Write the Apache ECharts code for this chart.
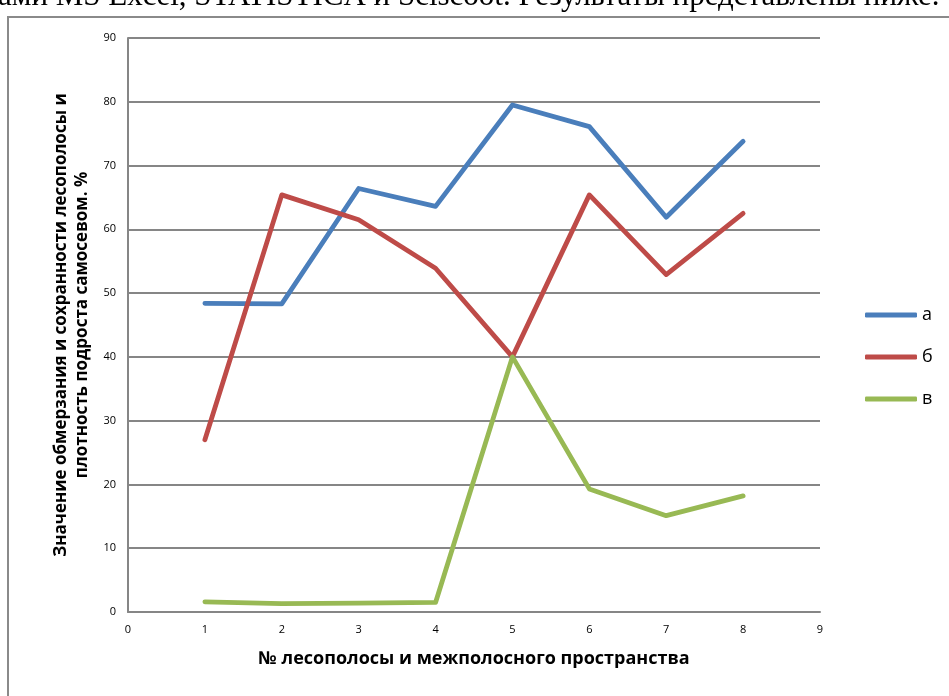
<!DOCTYPE html>
<html>
<head>
<meta charset="utf-8">
<script src="https://cdn.jsdelivr.net/npm/echarts@6/dist/echarts.min.js"></script>
<style>
  html, body { margin: 0; padding: 0; background: #fff; }
  #chart { width: 949px; height: 696px; }
</style>
</head>
<body>
<div id="chart"></div>
<script>
// Номера лесополос / межполосных пространств
const positions = [1, 2, 3, 4, 5, 6, 7, 8];
// Значения по вариантам а, б, в (%)
const seriesA = [48.4, 48.3, 66.4, 63.6, 79.5, 76.1, 61.9, 73.8];
const seriesB = [27.0, 65.4, 61.5, 53.9, 40.0, 65.4, 52.9, 62.5];
const seriesC = [1.6, 1.3, 1.4, 1.5, 40.0, 19.3, 15.1, 18.2];
const seriesNames = ['а', 'б', 'в'];
const colors = ['#4A7EBB', '#BE4B48', '#98B954'];

const pairs = (ys) => positions.map((x, i) => [x, ys[i]]);

const chart = echarts.init(document.getElementById('chart'), null, { renderer: 'canvas' });

const labelFont = '"Open Sans", "Noto Sans", sans-serif';

chart.setOption({
  animation: false,
  backgroundColor: '#fff',
  color: colors,
  grid: { left: 128, right: 129, top: 38, bottom: 84, containLabel: false },
  xAxis: {
    type: 'value', min: 0, max: 9, interval: 1,
    name: '№ лесополосы и межполосного пространства',
    nameLocation: 'middle', nameGap: 38,
    nameTextStyle: { fontFamily: labelFont, fontWeight: 'bold', fontSize: 18, color: '#000' },
    axisLine: { show: true, lineStyle: { color: '#868686', width: 2 } },
    axisTick: { show: false },
    axisLabel: { fontFamily: labelFont, fontSize: 11, color: '#000', margin: 12 },
    splitLine: { show: false }
  },
  yAxis: {
    type: 'value', min: 0, max: 90, interval: 10,
    name: 'Значение обмерзания и сохранности лесополосы и\nплотность подроста самосевом. %',
    nameLocation: 'middle', nameGap: 35,
    nameTextStyle: { fontFamily: labelFont, fontWeight: 'bold', fontSize: 17, lineHeight: 21, color: '#000' },
    axisLine: { show: true, lineStyle: { color: '#868686', width: 2 } },
    axisTick: { show: false },
    axisLabel: { fontFamily: labelFont, fontSize: 11, color: '#000', margin: 12 },
    splitLine: { show: true, lineStyle: { color: '#868686', width: 2 } }
  },
  legend: {
    orient: 'vertical', left: 860, top: 300,
    itemWidth: 52, itemHeight: 5, itemGap: 22,
    icon: 'roundRect',
    textStyle: { fontFamily: labelFont, fontSize: 18, lineHeight: 20, color: '#000' },
    data: seriesNames
  },
  series: seriesNames.map((name, k) => ({
    name,
    type: 'line',
    data: pairs([seriesA, seriesB, seriesC][k]),
    showSymbol: false,
    symbol: 'none',
    lineStyle: { width: 4.8, color: colors[k], cap: 'round', join: 'round' },
    itemStyle: { color: colors[k] },
    z: 2 + k
  })),
  graphic: [
    {
      type: 'rect', z: -1, silent: true,
      shape: { x: 8, y: 17, width: 1000, height: 760 },
      style: { fill: null, stroke: '#8a8a8a', lineWidth: 2 }
    },
    {
      type: 'text', x: -2, y: 12, silent: true,
      style: {
        text: 'ами MS Excel, STATISTICA и Sciscoot. Результаты представлены ниже.',
        font: '31px "Liberation Serif", "DejaVu Serif", serif',
        fill: '#000',
        verticalAlign: 'bottom',
        textBaseline: 'alphabetic'
      }
    }
  ]
});
</script>
</body>
</html>
